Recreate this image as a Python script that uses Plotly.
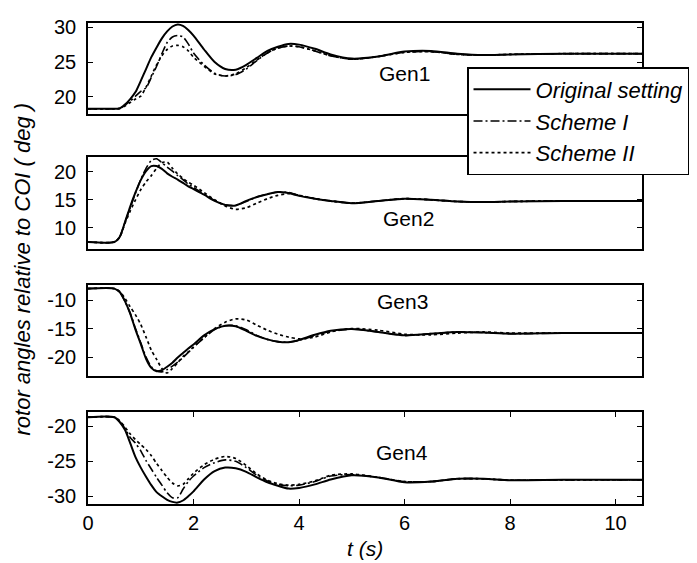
import plotly.graph_objects as go

# ---- data ----
t = [0, 0.5, 0.6, 0.7, 0.8, 0.9, 1.0, 1.1, 1.2, 1.3, 1.4, 1.5, 1.6, 1.7, 1.8, 1.9,
     2.0, 2.2, 2.4, 2.6, 2.8, 3.0, 3.2, 3.4, 3.6, 3.8, 4.0, 4.3, 4.6, 5.0, 5.5,
     6.0, 6.5, 7.0, 7.5, 8.0, 9.0, 10.5]

gen1_orig = [18.3, 18.3, 18.35, 18.9, 19.7, 20.7, 22.3, 24.0, 25.7, 27.1, 28.4, 29.4, 30.1, 30.4, 30.2, 29.6,
             28.8, 26.8, 25.0, 24.0, 23.9, 24.6, 25.6, 26.6, 27.2, 27.6, 27.5, 26.9, 26.1, 25.5, 25.8,
             26.5, 26.6, 26.2, 26.0, 26.1, 26.2, 26.2]
gen1_s1 = [18.3, 18.3, 18.35, 18.8, 19.4, 20.1, 20.8, 21.3, 22.8, 24.4, 26.2, 27.8, 28.6, 28.8, 28.6, 27.6,
           26.3, 24.6, 23.4, 23.0, 23.2, 24.0, 25.2, 26.3, 27.0, 27.3, 27.2, 26.6, 25.9, 25.4, 25.8,
           26.4, 26.5, 26.1, 26.0, 26.1, 26.2, 26.2]
gen1_s2 = [18.3, 18.3, 18.35, 18.7, 19.2, 19.7, 20.1, 21.4, 23.0, 24.6, 25.9, 26.8, 27.3, 27.4, 27.2, 26.6,
           25.7, 24.4, 23.3, 23.0, 23.3, 24.2, 25.3, 26.3, 27.0, 27.3, 27.2, 26.6, 25.9, 25.4, 25.8,
           26.4, 26.5, 26.1, 26.0, 26.1, 26.2, 26.2]

gen2_orig = [7.5, 7.5, 8.4, 11.0, 13.8, 16.3, 18.5, 20.1, 21.0, 21.0, 20.5, 19.7, 19.1, 18.6, 18.0, 17.4,
             16.9, 15.9, 14.8, 14.1, 14.0, 14.8, 15.5, 16.0, 16.4, 16.2, 15.7, 15.2, 14.8, 14.4, 14.8,
             15.2, 15.0, 14.7, 14.6, 14.7, 14.8, 14.8]
gen2_s1 = [7.5, 7.5, 8.4, 11.0, 13.6, 16.2, 18.6, 20.6, 22.0, 22.3, 21.6, 20.8, 20.1, 19.3, 18.6, 17.8,
           17.2, 16.0, 14.9, 14.1, 14.0, 14.7, 15.5, 16.0, 16.4, 16.3, 15.8, 15.2, 14.8, 14.4, 14.8,
           15.2, 15.0, 14.7, 14.6, 14.7, 14.8, 14.8]
gen2_s2 = [7.5, 7.5, 8.3, 10.8, 13.0, 15.0, 16.8, 18.2, 19.3, 20.6, 21.6, 21.7, 20.6, 19.6, 18.8, 18.1,
           17.6, 16.3, 15.0, 13.9, 13.3, 13.6, 14.4, 15.2, 15.8, 16.1, 15.8, 15.2, 14.8, 14.4, 14.8,
           15.2, 15.0, 14.7, 14.6, 14.7, 14.8, 14.8]

gen3_orig = [-8.0, -8.0, -8.6, -10.2, -12.4, -15.2, -17.7, -20.3, -21.9, -22.5, -22.3, -21.7, -21.0, -20.1, -19.3, -18.5,
             -17.8, -16.2, -15.1, -14.5, -14.6, -15.4, -16.3, -16.9, -17.3, -17.4, -17.0, -16.1, -15.4, -15.1, -15.6,
             -16.2, -15.9, -15.6, -15.7, -15.9, -15.8, -15.8]
gen3_s1 = [-8.0, -8.0, -8.6, -10.2, -12.3, -15.0, -17.5, -20.0, -21.7, -22.4, -22.6, -22.2, -21.6, -20.9, -20.1, -19.2,
           -18.3, -16.6, -15.2, -14.5, -14.5, -15.2, -16.2, -16.9, -17.3, -17.4, -17.1, -16.2, -15.5, -15.1, -15.6,
           -16.2, -15.9, -15.6, -15.7, -15.9, -15.8, -15.8]
gen3_s2 = [-8.0, -8.0, -8.5, -9.7, -11.2, -12.6, -14.3, -16.5, -18.8, -20.4, -22.0, -22.8, -22.0, -21.0, -19.9, -19.1,
           -18.2, -16.6, -15.0, -13.9, -13.3, -13.5, -14.4, -15.3, -16.0, -16.5, -16.8, -16.5, -15.6, -15.0, -15.3,
           -16.0, -16.1, -15.8, -15.6, -15.8, -15.8, -15.8]

gen4_orig = [-18.7, -18.7, -19.4, -20.5, -22.4, -24.4, -25.9, -27.2, -28.4, -29.4, -30.0, -30.5, -30.8, -30.9, -30.6, -30.0,
             -29.3, -27.6, -26.4, -25.9, -26.0, -26.5, -27.3, -28.0, -28.5, -28.9, -28.8, -28.3, -27.6, -27.0, -27.3,
             -28.0, -27.9, -27.5, -27.5, -27.7, -27.65, -27.65]
gen4_s1 = [-18.7, -18.7, -19.3, -20.3, -21.6, -22.4, -23.5, -24.9, -26.1, -27.3, -28.4, -29.5, -30.2, -30.2, -29.0, -27.9,
           -27.1, -25.9, -25.2, -24.8, -25.0, -25.9, -27.0, -27.8, -28.3, -28.5, -28.4, -27.9, -27.1, -26.9, -27.3,
           -27.9, -27.9, -27.5, -27.5, -27.7, -27.65, -27.65]
gen4_s2 = [-18.7, -18.7, -19.2, -20.1, -21.1, -21.9, -22.6, -23.3, -24.2, -25.3, -26.3, -27.3, -28.1, -28.5, -28.3, -27.5,
           -26.7, -25.5, -24.7, -24.3, -24.6, -25.6, -26.8, -27.7, -28.2, -28.4, -28.3, -27.8, -27.0, -26.8, -27.3,
           -27.9, -27.9, -27.5, -27.5, -27.7, -27.65, -27.65]

series_names = ["Original setting", "Scheme I", "Scheme II"]
gen_labels = ["Gen1", "Gen2", "Gen3", "Gen4"]
x_ticks = [0, 2, 4, 6, 8, 10]
y_ticks = [[20, 25, 30], [10, 15, 20], [-20, -15, -10], [-30, -25, -20]]
y_ranges = [[17.6, 30.6], [6.3, 22.6], [-23.3, -7.4], [-31.1, -18.0]]

panels = [
    (gen1_orig, gen1_s1, gen1_s2),
    (gen2_orig, gen2_s1, gen2_s2),
    (gen3_orig, gen3_s1, gen3_s2),
    (gen4_orig, gen4_s1, gen4_s2),
]

# ---- styling ----
FONT = "Liberation Sans, Arial, sans-serif"
dashes = ["solid", "9px,3px,2px,3px", "dot"]
widths = [2.0, 1.6, 1.7]
domains = [[0.8115, 1.0], [0.5307, 0.7213], [0.2664, 0.4549], [0.0, 0.1906]]
label_pos = [(6.0, 23.3), (6.08, 11.6), (5.96, -10.3), (5.95, -23.7)]

fig = go.Figure()
for i, series in enumerate(panels):
    ax = "" if i == 0 else str(i + 1)
    for j, vals in enumerate(series):
        fig.add_trace(go.Scatter(
            x=t, y=vals, mode="lines", name=series_names[j],
            line=dict(color="black", width=widths[j], dash=dashes[j], shape="spline", smoothing=0.7),
            xaxis="x" + ax, yaxis="y" + ax,
            showlegend=(i == 0),
        ))

# page body has an 8px margin: figure is 8px smaller and margins shifted so the
# plot area lands at the reference pixel positions
layout = dict(
    width=689, height=555,
    margin=dict(l=80, r=54, t=8, b=59),
    paper_bgcolor="white", plot_bgcolor="white",
    font=dict(family=FONT, size=19, color="black"),
    showlegend=True,
    legend=dict(
        x=(468 - 88) / 555, y=(504 - 61) / 488, xanchor="left", yanchor="top",
        bgcolor="white", bordercolor="black", borderwidth=1.2,
        font=dict(family=FONT, size=22, color="black", style="italic"),
        itemwidth=57, tracegroupgap=0,
    ),
)

for i in range(4):
    ax = "" if i == 0 else str(i + 1)
    bottom = (i == 3)
    layout["xaxis" + ax] = dict(
        domain=[0, 1], range=[0, 10.5], anchor="y" + ax,
        showline=True, linecolor="black", linewidth=1.6, mirror=("ticks" if bottom else True),
        showgrid=False, zeroline=False,
        ticks=("inside" if bottom else ""), ticklen=5, tickwidth=1.2, tickcolor="black",
        tickvals=x_ticks, ticktext=[str(v) for v in x_ticks],
        showticklabels=bottom,
        tickfont=dict(family=FONT, size=20, color="black"),
        **({"matches": "x4"} if not bottom else {}),
    )
    layout["yaxis" + ax] = dict(
        domain=domains[i], range=y_ranges[i], anchor="x" + ax,
        showline=True, linecolor="black", linewidth=1.6, mirror="ticks",
        showgrid=False, zeroline=False,
        ticks="inside", ticklen=5, tickwidth=1.2, tickcolor="black",
        tickvals=y_ticks[i], ticktext=[str(v) for v in y_ticks[i]],
        ticklabelstandoff=6,
        tickfont=dict(family=FONT, size=20, color="black"),
    )

fig.update_layout(**layout)

annotations = []
for i, (lx, ly) in enumerate(label_pos):
    ax = "" if i == 0 else str(i + 1)
    annotations.append(dict(
        x=lx, y=ly, xref="x" + ax, yref="y" + ax, text=gen_labels[i], showarrow=False,
        font=dict(family=FONT, size=21, color="black"),
    ))
annotations.append(dict(
    x=(22 - 88) / 555, y=(504 - 266) / 488, xref="paper", yref="paper",
    text="rotor angles relative to COI ( deg )", xanchor="center", yanchor="middle",
    showarrow=False, textangle=-90, font=dict(family=FONT, size=22, color="black", style="italic"),
))
annotations.append(dict(
    x=0.5, y=(504 - 549) / 488, xref="paper", yref="paper", text="<i>t</i> (s)", showarrow=False,
    font=dict(family=FONT, size=21, color="black", style="italic"), yanchor="middle",
))
fig.update_layout(annotations=annotations)

fig.write_html("out.html")
